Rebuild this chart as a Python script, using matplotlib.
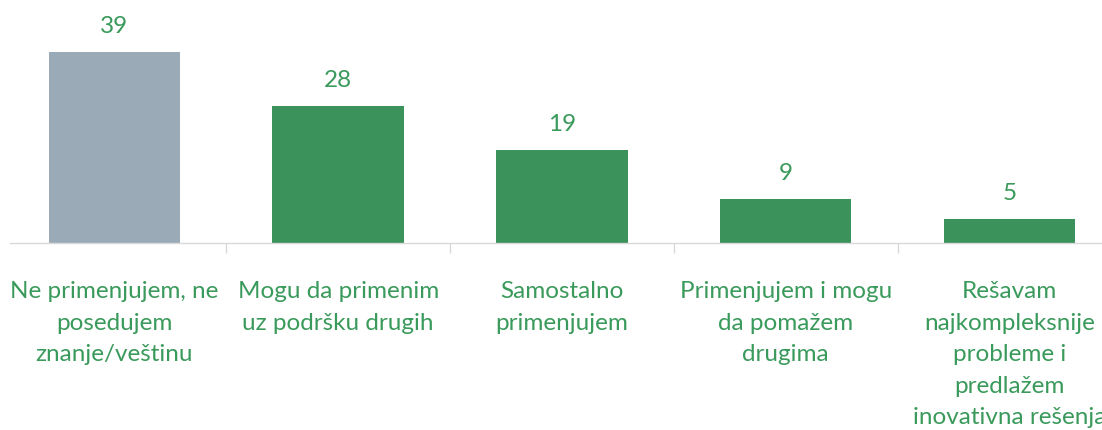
import matplotlib
matplotlib.use("Agg")
import matplotlib.pyplot as plt

categories = [
    "Ne primenjujem, ne\nposedujem\nznanje/veštinu",
    "Mogu da primenim\nuz podršku drugih",
    "Samostalno\nprimenjujem",
    "Primenjujem i mogu\nda pomažem\ndrugima",
    "Rešavam\nnajkompleksnije\nprobleme i\npredlažem\ninovativna rešenja",
]
values = [39, 28, 19, 9, 5]

GREEN = "#3b925a"
GRAY = "#9aabb7"
TEXT_GREEN = "#3a9a5b"
bar_colors = [GRAY, GREEN, GREEN, GREEN, GREEN]

W, H = 1102, 430
fig = plt.figure(figsize=(W / 100, H / 100), dpi=100)
plt.rcParams['font.family'] = ['Lato', 'DejaVu Sans']

left_px, right_px = 10, 1102
base_px = 243
px_per_unit = 4.9
ymax = 44
ax_h_px = ymax * px_per_unit
ax = fig.add_axes([left_px / W, (H - base_px) / H, (right_px - left_px) / W, ax_h_px / H])

x = list(range(len(values)))
ax.bar(x, values, width=0.588, color=bar_colors, zorder=2)
ax.set_xlim(-0.467, 4.414)
ax.set_ylim(0, ymax)

for xi, v in zip(x, values):
    ax.annotate(str(v), (xi, v), xytext=(0, 10.5), textcoords="offset points",
                ha="center", va="bottom", fontsize=17.5, color=TEXT_GREEN)

for s in ["top", "left", "right"]:
    ax.spines[s].set_visible(False)
ax.spines["bottom"].set_color("#d9d9d9")
ax.spines["bottom"].set_linewidth(1.0)
ax.set_yticks([])

ax.set_xticks(x)
ax.set_xticklabels(categories)
ax.set_xticks([0.5, 1.5, 2.5, 3.5], minor=True)
ax.tick_params(axis="x", which="major", length=0, pad=27.5, labelsize=17.5, labelcolor=TEXT_GREEN)
ax.tick_params(axis="x", which="minor", length=7.5, width=1.0, color="#d9d9d9")
for t in ax.get_xticklabels():
    t.set_linespacing(1.62)
    t.set_va("top")

fig.savefig("out.png", dpi=100)
